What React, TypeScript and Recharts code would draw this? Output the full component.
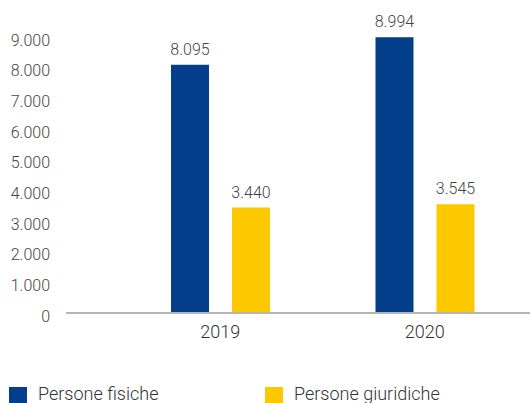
import { BarChart, Bar, XAxis, YAxis, Legend, LabelList } from "recharts";

const years = ["2019", "2020"];
const personeFisiche = [8095, 8994];
const personeGiuridiche = [3440, 3545];
const yTicks = [0, 1000, 2000, 3000, 4000, 5000, 6000, 7000, 8000, 9000];

const COLORS = ["#023e8a", "#fdc800"]; // blue fisiche, yellow giuridiche
const NAMES = ["Persone fisiche", "Persone giuridiche"];

const fmtThousands = (v: number) => {
  const s = String(Math.round(v));
  return s.replace(/\B(?=(\d{3})+(?!\d))/g, ".");
};

const data = years.map((y, i) => ({
  year: y,
  fisiche: personeFisiche[i],
  giuridiche: personeGiuridiche[i],
}));

function CustomLegend() {
  return (
    <div style={{ height: 20, display: "flex", fontFamily: "Roboto", fontWeight: 300, fontSize: 18, color: "#333" }}>
      {NAMES.map((name, i) => (
        <div key={name} style={{ width: 256, display: "flex", alignItems: "flex-start" }}>
          <span style={{ width: 18, height: 18, marginTop: 3, background: COLORS[i], display: "inline-block", flexShrink: 0 }} />
          <span style={{ marginLeft: 11, lineHeight: "20px", whiteSpace: "nowrap" }}>{name}</span>
        </div>
      ))}
    </div>
  );
}

const labelStyle = { fill: "#444", fontSize: 16, fontFamily: "Roboto", fontWeight: 300 };

export default function App() {
  return (
    <div style={{ position: "absolute", left: 0, top: 0, width: 530, height: 403, overflow: "hidden", background: "#fff" }}>
      <BarChart
        width={530}
        height={403}
        data={data}
        margin={{ top: 37, right: 0, bottom: 0, left: 0 }}
        barSize={38}
        barGap={23}
      >
        <YAxis
          width={66}
          domain={[0, 9000]}
          ticks={yTicks}
          interval={0}
          axisLine={false}
          tickLine={false}
          tickSize={0}
          tickMargin={16}
          tickFormatter={(v: number) => fmtThousands(v)}
          tick={{ fill: "#444", fontSize: 16, fontFamily: "Roboto", fontWeight: 300, dy: 3 }}
        />
        <XAxis
          dataKey="year"
          height={70}
          padding={{ left: 52, right: 3 }}
          axisLine={{ stroke: "#b4b4b4", strokeWidth: 2 }}
          tickLine={false}
          tickSize={0}
          tickMargin={12}
          tick={{ fill: "#333", fontSize: 18, fontFamily: "Roboto", fontWeight: 300 }}
        />
        <Legend
          content={<CustomLegend />}
          wrapperStyle={{ top: 384, left: 9, width: 521 }}
        />
        <Bar dataKey="fisiche" name={NAMES[0]} fill={COLORS[0]} isAnimationActive={false}>
          <LabelList
            dataKey="fisiche"
            position="top"
            offset={10}
            formatter={(v: number) => fmtThousands(v)}
            style={labelStyle}
          />
        </Bar>
        <Bar dataKey="giuridiche" name={NAMES[1]} fill={COLORS[1]} isAnimationActive={false}>
          <LabelList
            dataKey="giuridiche"
            position="top"
            offset={10}
            formatter={(v: number) => fmtThousands(v)}
            style={labelStyle}
          />
        </Bar>
      </BarChart>
    </div>
  );
}
